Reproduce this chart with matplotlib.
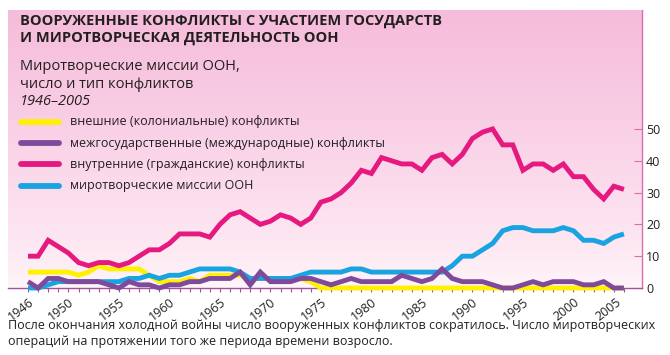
import numpy as np
import matplotlib
matplotlib.use("Agg")
import matplotlib.pyplot as plt
import matplotlib.transforms as mtransforms
from matplotlib.colors import LinearSegmentedColormap

# ---------------- data ----------------
years = list(range(1946, 2006))
external = [5, 5, 5, 5, 5, 4, 5, 7, 6, 6,
            6, 6, 4, 2, 2, 2, 3, 2, 4, 4,
            4, 4, 3, 3, 3, 3, 3, 3, 2, 0,
            0, 0, 0, 0, 0, 0, 0, 0, 0, 0,
            0, 0, 0, 0, 0, 0, 0, 0, 0, 0,
            0, 0, 0, 0, 0, 0, 0, 0, 0, 0]
interstate = [2, 0, 3, 3, 2, 2, 2, 2, 1, 0,
              2, 1, 1, 0, 1, 1, 2, 2, 3, 3,
              3, 5, 1, 5, 2, 2, 2, 3, 3, 2,
              1, 2, 3, 2, 2, 2, 2, 4, 3, 2,
              3, 6, 3, 2, 2, 2, 1, 0, 0, 1,
              2, 1, 2, 2, 2, 1, 1, 2, 0, 0]
internal = [10, 10, 15, 13, 11, 8, 7, 8, 8, 7,
            8, 10, 12, 12, 14, 17, 17, 17, 16, 20,
            23, 24, 22, 20, 21, 23, 22, 20, 22, 27,
            28, 30, 33, 37, 36, 41, 40, 39, 39, 37,
            41, 42, 39, 42, 47, 49, 50, 45, 45, 37,
            39, 39, 37, 39, 35, 35, 31, 28, 32, 31]
missions = [0, 0, 1, 2, 2, 2, 2, 2, 2, 2,
            3, 3, 4, 3, 4, 4, 5, 6, 6, 6,
            6, 5, 3, 3, 3, 3, 3, 4, 5, 5,
            5, 5, 6, 6, 5, 5, 5, 5, 5, 5,
            5, 5, 7, 10, 10, 12, 14, 18, 19, 19,
            18, 18, 18, 19, 18, 15, 15, 14, 16, 17]

x_tick_years = [1946, 1950, 1955, 1960, 1965, 1970, 1975, 1980, 1985,
                1990, 1995, 2000, 2005]
y_ticks = [0, 10, 20, 30, 40, 50]

title_lines = ["ВООРУЖЕННЫЕ КОНФЛИКТЫ С УЧАСТИЕМ ГОСУДАРСТВ",
               "И МИРОТВОРЧЕСКАЯ ДЕЯТЕЛЬНОСТЬ ООН"]
subtitle_lines = ["Миротворческие миссии ООН,", "число и тип конфликтов"]
period = "1946–2005"
legend_labels = ["внешние (колониальные) конфликты",
                 "межгосударственные (международные) конфликты",
                 "внутренние (гражданские) конфликты",
                 "миротворческие миссии ООН"]
footnote = ["После окончания холодной войны число вооруженных конфликтов сократилось. Число миротворческих",
            "операций на протяжении того же периода времени возросло."]

# ---------------- style ----------------
C_YEL = "#fff100"
C_PUR = "#7f4a9c"
C_PINK = "#e5197f"
C_BLUE = "#1aa3e1"
TXT = "#231f20"
FAM = ["Open Sans", "DejaVu Sans"]

W, H = 670, 355
fig = plt.figure(figsize=(W / 100, H / 100), dpi=100)
fig.patch.set_facecolor("white")

L, R, T, B = 8, 642, 10, 288
ax = fig.add_axes([L / W, (H - B) / H, (R - L) / W, (B - T) / H])
x0, x1 = 1944.02, 2006.79
y0, y1 = 0, 87.4
ax.set_xlim(x0, x1)
ax.set_ylim(y0, y1)

# gradient background
cmap = LinearSegmentedColormap.from_list("pk", ["#fff6fa", "#fbdaeb", "#f6bcdb"])
grad = np.linspace(0, 1, 256).reshape(-1, 1) ** 0.75
ax.imshow(grad, extent=[x0, x1, y0, y1], origin="lower", aspect="auto",
          cmap=cmap, zorder=0, interpolation="bilinear")

lw = 3.5
ax.plot(years, external, color=C_YEL, lw=lw, solid_capstyle="butt",
        solid_joinstyle="miter", clip_on=False, zorder=3)
ax.plot(years, missions, color=C_BLUE, lw=lw, solid_capstyle="butt",
        solid_joinstyle="miter", clip_on=False, zorder=4)
ax.plot(years, interstate, color=C_PUR, lw=lw, solid_capstyle="butt",
        solid_joinstyle="miter", clip_on=False, zorder=5)
ax.plot(years, internal, color=C_PINK, lw=lw, solid_capstyle="butt",
        solid_joinstyle="miter", clip_on=False, zorder=6)

# spines
for s in ["top", "left"]:
    ax.spines[s].set_visible(False)
ax.spines["bottom"].set_color("#a0529a")
ax.spines["bottom"].set_linewidth(1.0)
ax.spines["right"].set_color("#d66fab")
ax.spines["right"].set_linewidth(1.0)

ax.set_xticks(x_tick_years)
ax.set_xticks(years, minor=True)
ax.set_xticklabels([str(y) for y in x_tick_years], rotation=38, ha="right",
                   va="top", rotation_mode="anchor", fontsize=9,
                   color=TXT, family=FAM)
ax.tick_params(axis="x", which="both", direction="out", length=3,
               width=0.8, color="#a0529a", pad=2.5)
# last label nudged left, as in the original
lab_last = ax.get_xticklabels()[-1]
lab_last.set_transform(lab_last.get_transform() +
                       mtransforms.ScaledTranslation(-8 / 100, 0, fig.dpi_scale_trans))

ax.yaxis.tick_right()
ax.set_yticks(y_ticks)
ax.set_yticklabels([str(v) for v in y_ticks], fontsize=9, color=TXT, family=FAM)
ax.tick_params(axis="y", direction="in", length=6, width=0.8,
               color="#d66fab", pad=3)

def fx(x):
    return x / W

def fy(y):
    return 1 - y / H

# titles
fig.text(fx(20), fy(21), title_lines[0], fontsize=10.5, fontweight="bold",
         color=TXT, family=FAM, va="center", ha="left")
fig.text(fx(20), fy(38), title_lines[1], fontsize=10.5, fontweight="bold",
         color=TXT, family=FAM, va="center", ha="left")
fig.text(fx(20), fy(67), subtitle_lines[0], fontsize=10.5, color=TXT,
         family=FAM, va="center", ha="left")
fig.text(fx(20), fy(84), subtitle_lines[1], fontsize=10.5, color=TXT,
         family=FAM, va="center", ha="left")
fig.text(fx(20), fy(101), period, fontsize=10.5, style="italic", color=TXT,
         family=FAM, va="center", ha="left")

# legend
leg_y = [122, 143, 164, 186]
leg_c = [C_YEL, C_PUR, C_PINK, C_BLUE]
for yy, cc, lab in zip(leg_y, leg_c, legend_labels):
    fig.lines.append(plt.Line2D([fx(21), fx(59)], [fy(yy), fy(yy)],
                                transform=fig.transFigure, color=cc, lw=4.2,
                                solid_capstyle="round"))
    fig.text(fx(70), fy(yy), lab, fontsize=9.0, color=TXT, family=FAM,
             va="center", ha="left")

# footnote
fig.text(fx(8), fy(326), footnote[0], fontsize=9.0, color=TXT, family=FAM,
         va="center", ha="left")
fig.text(fx(8), fy(342), footnote[1], fontsize=9.0, color=TXT, family=FAM,
         va="center", ha="left")

fig.savefig("out.png", dpi=100, facecolor="white")
